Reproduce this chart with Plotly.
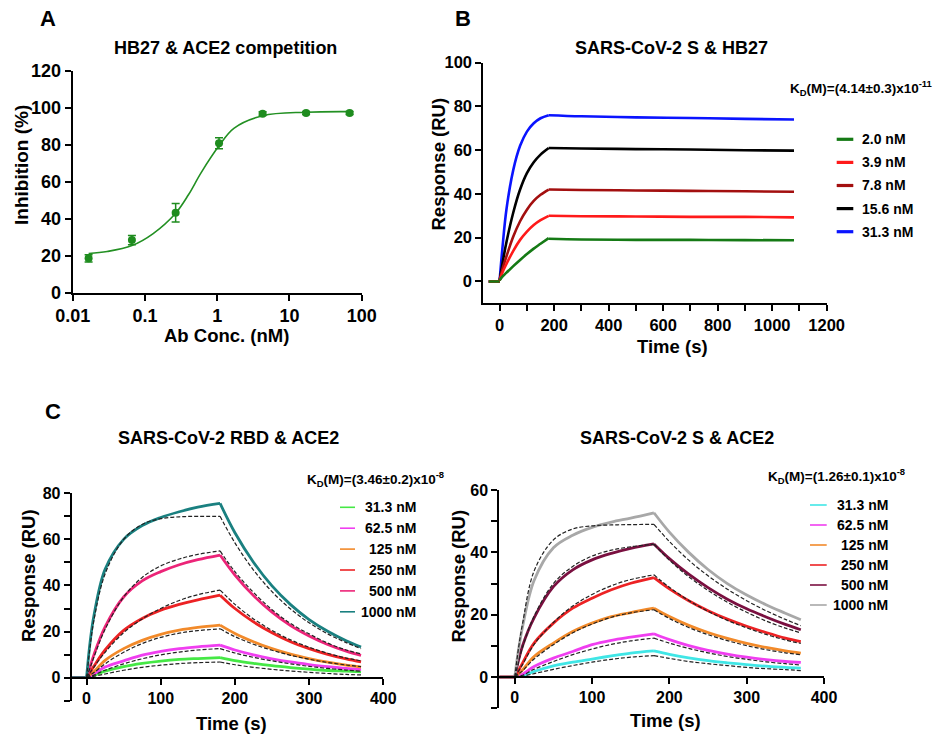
import plotly.graph_objects as go

W, H = 952, 738
FONT = "Liberation Sans, Arial, Helvetica, sans-serif"

# ---------------- Panel A data ----------------
A_CONC = [0.0166, 0.066, 0.266, 1.06, 4.25, 17.0, 68.0]
A_INHIB = [18.6, 28.5, 43.3, 80.9, 96.9, 97.3, 97.3]
A_ERR = [2.0, 2.5, 5.0, 3.0, 1.0, 0.8, 0.8]
A_FIT_X = [0.0166, 0.03, 0.066, 0.13, 0.266, 0.4, 0.6, 1.06, 1.7, 4.25, 17.0, 68.0]
A_FIT_Y = [21.2, 22.3, 25.5, 32.0, 43.0, 53.0, 65.0, 79.5, 89.0, 95.8, 97.7, 98.0]
A_XTICKS = [0.01, 0.1, 1, 10, 100]
A_XTICKTEXT = ["0.01", "0.1", "1", "10", "100"]

# ---------------- Panel B data ----------------
B_T_BASE = [-40, 0]
B_T_ASSOC = [0, 10, 25, 50, 75, 100, 125, 150, 180]
B_T_DISS = [180, 300, 500, 700, 900, 1080]
B_LABELS = ["2.0 nM", "3.9 nM", "7.8 nM", "15.6 nM", "31.3 nM"]
B_ASSOC_2_0 = [0.5, 2.2, 4.0, 7.0, 9.8, 12.5, 15.0, 17.2, 19.8]
B_ASSOC_3_9 = [0.5, 4.0, 8.0, 14.0, 19.0, 22.8, 25.8, 28.0, 30.0]
B_ASSOC_7_8 = [0.5, 5.5, 11.5, 20.5, 27.5, 32.8, 36.8, 39.6, 42.0]
B_ASSOC_15_6 = [0.5, 8.0, 18.0, 31.5, 42.0, 49.5, 54.5, 58.0, 61.0]
B_ASSOC_31_3 = [0.5, 15.0, 33.0, 51.0, 62.0, 68.5, 72.3, 74.6, 76.0]
B_DISS_2_0 = [19.5, 19.2, 19.0, 19.0, 18.9, 18.8]
B_DISS_3_9 = [30.0, 29.8, 29.7, 29.5, 29.5, 29.3]
B_DISS_7_8 = [42.0, 41.8, 41.6, 41.4, 41.2, 41.0]
B_DISS_15_6 = [61.0, 60.8, 60.5, 60.3, 60.0, 59.8]
B_DISS_31_3 = [76.0, 75.5, 75.0, 74.7, 74.3, 74.0]
B_COLORS = ["#157a15", "#ff1a1a", "#a30f0f", "#000000", "#0a14ff"]

# ---------------- Panel C data ----------------
C_T_BASE = [-20, 0]
C_T_ASSOC = [0, 5, 10, 25, 50, 75, 100, 125, 150, 180]
C_T_DISS = [180, 200, 225, 250, 275, 300, 325, 350, 370]
C_LABELS = ["31.3 nM", "62.5 nM", "125 nM", "250 nM", "500 nM", "1000 nM"]

# C left: SARS-CoV-2 RBD & ACE2
CL_ASSOC_31 = [0, 0.5, 1.0, 2.8, 4.8, 6.2, 7.2, 7.9, 8.3, 8.7]
CL_ASSOC_62 = [0, 0.7, 1.5, 4.6, 7.3, 9.8, 11.4, 12.6, 13.4, 14.1]
CL_ASSOC_125 = [0, 1.3, 2.6, 7.5, 12.6, 16.2, 18.8, 20.6, 21.8, 22.8]
CL_ASSOC_250 = [0, 2.5, 5.0, 12.0, 20.5, 25.7, 29.3, 31.8, 33.8, 35.8]
CL_ASSOC_500 = [0, 5.0, 10.0, 22.0, 35.0, 42.0, 46.0, 49.0, 51.2, 53.2]
CL_ASSOC_1000 = [0, 16.0, 27.0, 47.0, 60.0, 66.0, 69.5, 72.0, 74.0, 75.6]
CL_DISS_31 = [8.7, 7.4, 6.2, 5.2, 4.4, 3.7, 3.1, 2.8, 2.5]
CL_DISS_62 = [14.1, 12.0, 9.9, 8.2, 6.8, 5.7, 4.8, 4.0, 3.5]
CL_DISS_125 = [22.8, 19.2, 15.6, 12.6, 10.2, 8.3, 6.7, 5.4, 4.6]
CL_DISS_250 = [35.8, 30.0, 24.2, 19.5, 15.6, 12.6, 10.1, 8.1, 6.8]
CL_DISS_500 = [53.2, 44.5, 35.6, 28.4, 22.6, 18.1, 14.4, 11.5, 9.7]
CL_DISS_1000 = [75.6, 62.9, 50.1, 39.8, 31.7, 25.2, 20.1, 16.0, 13.3]
CL_FIT_ASSOC_31 = [0, 0.3, 0.6, 1.6, 3.2, 4.5, 5.4, 6.1, 6.5, 6.8]
CL_FIT_ASSOC_62 = [0, 0.5, 1.1, 3.2, 6.0, 8.2, 9.9, 11.1, 12.0, 12.6]
CL_FIT_ASSOC_125 = [0, 1.1, 2.2, 6.0, 11.0, 14.8, 17.5, 19.3, 20.4, 21.2]
CL_FIT_ASSOC_250 = [0, 2.3, 4.6, 11.0, 19.5, 25.5, 30.0, 33.5, 36.0, 38.0]
CL_FIT_ASSOC_500 = [0, 4.5, 9.0, 21.0, 35.0, 43.5, 48.5, 51.5, 53.5, 55.0]
CL_FIT_ASSOC_1000 = [0, 14.0, 25.0, 45.0, 60.0, 66.5, 69.0, 69.8, 70.0, 70.0]
CL_FIT_DISS_31 = [6.8, 5.6, 4.5, 3.6, 2.9, 2.3, 1.8, 1.4, 1.2]
CL_FIT_DISS_62 = [12.6, 10.7, 8.8, 7.3, 6.0, 4.9, 4.0, 3.3, 2.8]
CL_FIT_DISS_125 = [21.2, 17.8, 14.5, 11.9, 9.7, 8.0, 6.6, 5.5, 4.8]
CL_FIT_DISS_250 = [38.0, 31.8, 25.5, 20.5, 16.4, 13.2, 10.6, 8.5, 7.3]
CL_FIT_DISS_500 = [55.0, 46.0, 37.0, 29.5, 23.5, 19.0, 15.0, 12.0, 10.3]
CL_FIT_DISS_1000 = [70.0, 58.5, 46.7, 37.3, 29.8, 23.8, 19.0, 15.2, 12.6]
CL_COLORS = ["#45e845", "#f03ef0", "#f28a2a", "#ec2224", "#ec2478", "#1a8080"]

# C right: SARS-CoV-2 S & ACE2
CR_ASSOC_31 = [0, 0.2, 0.4, 1.8, 3.6, 4.8, 5.8, 6.8, 7.7, 8.4]
CR_ASSOC_62 = [0, 0.4, 0.9, 3.4, 6.1, 8.2, 10.4, 11.8, 12.8, 13.9]
CR_ASSOC_125 = [0, 1.1, 2.3, 6.6, 10.9, 14.6, 17.3, 19.4, 20.7, 22.1]
CR_ASSOC_250 = [0, 2.2, 4.5, 10.9, 17.3, 22.1, 25.3, 28.0, 30.1, 31.9]
CR_ASSOC_500 = [0, 5.5, 10.0, 19.0, 29.0, 34.4, 37.6, 39.7, 41.3, 42.7]
CR_ASSOC_1000 = [0, 9.0, 16.0, 31.0, 41.5, 45.5, 48.0, 49.7, 51.0, 52.7]
CR_DISS_31 = [8.4, 7.3, 6.2, 5.3, 4.6, 4.0, 3.5, 3.1, 2.9]
CR_DISS_62 = [13.9, 12.0, 10.1, 8.6, 7.4, 6.4, 5.6, 5.0, 4.7]
CR_DISS_125 = [22.1, 19.4, 16.6, 14.3, 12.4, 10.8, 9.5, 8.4, 7.7]
CR_DISS_250 = [31.9, 28.3, 24.5, 21.3, 18.6, 16.3, 14.3, 12.5, 11.4]
CR_DISS_500 = [42.7, 38.0, 33.0, 28.7, 25.0, 21.9, 19.3, 16.9, 15.2]
CR_DISS_1000 = [52.7, 46.5, 40.0, 34.5, 30.0, 26.3, 23.2, 20.5, 18.4]
CR_FIT_ASSOC_31 = [0, 0.1, 0.3, 1.1, 2.5, 3.7, 4.8, 5.7, 6.4, 6.9]
CR_FIT_ASSOC_62 = [0, 0.3, 0.6, 2.5, 5.0, 7.2, 9.0, 10.5, 11.6, 12.5]
CR_FIT_ASSOC_125 = [0, 1.0, 2.0, 5.8, 10.4, 14.2, 17.0, 19.2, 20.6, 21.6]
CR_FIT_ASSOC_250 = [0, 2.0, 4.0, 10.5, 17.5, 22.8, 26.5, 29.3, 31.3, 32.8]
CR_FIT_ASSOC_500 = [0, 5.0, 9.5, 19.5, 30.0, 35.5, 38.8, 40.7, 41.8, 42.6]
CR_FIT_ASSOC_1000 = [0, 9.5, 17.0, 34.0, 44.0, 47.5, 48.5, 48.8, 48.9, 49.0]
CR_FIT_DISS_31 = [6.9, 6.0, 5.0, 4.3, 3.7, 3.1, 2.7, 2.4, 2.1]
CR_FIT_DISS_62 = [12.5, 10.9, 9.2, 7.8, 6.6, 5.7, 4.9, 4.3, 3.9]
CR_FIT_DISS_125 = [21.6, 18.8, 15.9, 13.6, 11.7, 10.1, 8.8, 7.8, 7.2]
CR_FIT_DISS_250 = [32.8, 28.8, 24.6, 21.1, 18.2, 15.8, 13.7, 11.9, 10.8]
CR_FIT_DISS_500 = [42.6, 37.5, 32.2, 27.8, 24.0, 20.8, 18.0, 15.7, 14.2]
CR_FIT_DISS_1000 = [49.0, 43.5, 37.5, 32.5, 28.2, 24.5, 21.3, 18.5, 16.5]
CR_COLORS = ["#40e6e6", "#f03ef0", "#f28a2a", "#ec2224", "#7a1040", "#a8a8a8"]

KD_B = "K<sub>D</sub>(M)=(4.14±0.3)x10<sup>-11</sup>"
KD_CL = "K<sub>D</sub>(M)=(3.46±0.2)x10<sup>-8</sup>"
KD_CR = "K<sub>D</sub>(M)=(1.26±0.1)x10<sup>-8</sup>"

# ---------------- helpers ----------------
def px(x):
    return x / W

def py(y):
    return 1 - y / H

def seg(base_t, base_v, at, av, dt, dv):
    x = list(base_t) + [None] + list(at) + [None] + list(dt)
    y = list(base_v) + [None] + list(av) + [None] + list(dv)
    return x, y

fig = go.Figure()

# Panel A
fig.add_trace(go.Scatter(x=A_FIT_X, y=A_FIT_Y, mode="lines", line=dict(color="#239023", width=1.6, shape="spline"),
                         xaxis="x", yaxis="y", showlegend=False, hoverinfo="skip"))
fig.add_trace(go.Scatter(x=A_CONC, y=A_INHIB, mode="markers",
                         marker=dict(color="#1e8c1e", size=8),
                         error_y=dict(type="data", array=A_ERR, visible=True, color="#1e8c1e", thickness=1.5, width=4),
                         xaxis="x", yaxis="y", showlegend=False))

# Panel B
b_assoc = [B_ASSOC_2_0, B_ASSOC_3_9, B_ASSOC_7_8, B_ASSOC_15_6, B_ASSOC_31_3]
b_diss = [B_DISS_2_0, B_DISS_3_9, B_DISS_7_8, B_DISS_15_6, B_DISS_31_3]
for i in reversed(range(5)):
    x, y = seg(B_T_BASE, [0, 0], B_T_ASSOC, b_assoc[i], B_T_DISS, b_diss[i])
    fig.add_trace(go.Scatter(x=x, y=y, mode="lines", line=dict(color=B_COLORS[i], width=2.6, shape="spline"),
                             xaxis="x2", yaxis="y2", showlegend=False, name=B_LABELS[i]))

# Panel C
cl_assoc = [CL_ASSOC_31, CL_ASSOC_62, CL_ASSOC_125, CL_ASSOC_250, CL_ASSOC_500, CL_ASSOC_1000]
cl_diss = [CL_DISS_31, CL_DISS_62, CL_DISS_125, CL_DISS_250, CL_DISS_500, CL_DISS_1000]
cl_fa = [CL_FIT_ASSOC_31, CL_FIT_ASSOC_62, CL_FIT_ASSOC_125, CL_FIT_ASSOC_250, CL_FIT_ASSOC_500, CL_FIT_ASSOC_1000]
cl_fd = [CL_FIT_DISS_31, CL_FIT_DISS_62, CL_FIT_DISS_125, CL_FIT_DISS_250, CL_FIT_DISS_500, CL_FIT_DISS_1000]
cr_assoc = [CR_ASSOC_31, CR_ASSOC_62, CR_ASSOC_125, CR_ASSOC_250, CR_ASSOC_500, CR_ASSOC_1000]
cr_diss = [CR_DISS_31, CR_DISS_62, CR_DISS_125, CR_DISS_250, CR_DISS_500, CR_DISS_1000]
cr_fa = [CR_FIT_ASSOC_31, CR_FIT_ASSOC_62, CR_FIT_ASSOC_125, CR_FIT_ASSOC_250, CR_FIT_ASSOC_500, CR_FIT_ASSOC_1000]
cr_fd = [CR_FIT_DISS_31, CR_FIT_DISS_62, CR_FIT_DISS_125, CR_FIT_DISS_250, CR_FIT_DISS_500, CR_FIT_DISS_1000]

for (xa, ya, assoc, diss, fa, fd, colors) in [("x3", "y3", cl_assoc, cl_diss, cl_fa, cl_fd, CL_COLORS),
                                               ("x4", "y4", cr_assoc, cr_diss, cr_fa, cr_fd, CR_COLORS)]:
    for i in range(6):
        x, y = seg(C_T_BASE, [0, 0], C_T_ASSOC, assoc[i], C_T_DISS, diss[i])
        fig.add_trace(go.Scatter(x=x, y=y, mode="lines", line=dict(color=colors[i], width=2.8, shape="spline"),
                                 xaxis=xa, yaxis=ya, showlegend=False, name=C_LABELS[i]))
    for i in range(6):
        x = list(C_T_ASSOC) + [None] + list(C_T_DISS)
        y = list(fa[i]) + [None] + list(fd[i])
        fig.add_trace(go.Scatter(x=x, y=y, mode="lines", line=dict(color="#222222", width=1.2, dash="4px,2px", shape="spline"),
                                 xaxis=xa, yaxis=ya, showlegend=False, hoverinfo="skip"))

# ---------------- axes ----------------
def axis_common(size):
    return dict(showline=True, linewidth=2, linecolor="black", ticks="outside", ticklen=6, tickwidth=2,
                tickcolor="black", showgrid=False, zeroline=False, automargin=False,
                tickfont=dict(family=FONT, size=size, color="black", weight="bold"))

def ydom(top, bottom):
    return [py(bottom), py(top)]

# A
A_Y = ydom(71, 292.7)
fig.update_layout(
    xaxis=dict(domain=[px(72.7), px(361.7)], type="log", range=[-2, 2], tickvals=A_XTICKS, ticktext=A_XTICKTEXT,
               anchor="y", **axis_common(18)),
    yaxis=dict(domain=A_Y, range=[0, 120], dtick=20, anchor="x", **axis_common(18)),
)
# B
B_Y = ydom(62.7, 303.3)
fig.update_layout(
    xaxis2=dict(domain=[px(483.3), px(826.7)], range=[-60, 1200], tick0=0, dtick=200, anchor="y2",
                minor=dict(dtick=100, tick0=0, ticks="outside", ticklen=6, tickwidth=2, tickcolor="black"),
                **axis_common(16.5)),
    yaxis2=dict(domain=B_Y, range=[-10, 100], tick0=0, dtick=20, anchor="x2", **axis_common(16.5)),
)
# C
def x_at_zero(dom, rng):
    return dom[0] + (0 - rng[0]) / (rng[1] - rng[0]) * (dom[1] - dom[0])

CL_Y = ydom(493.3, 700.7)
CL_YR = [-10, 80]
CR_Y = ydom(490, 708.3)
CR_YR = [-10, 60]
minor_y = dict(dtick=10, tick0=0, ticks="outside", ticklen=6, tickwidth=2, tickcolor="black")
fig.update_layout(
    xaxis3=dict(domain=[px(71.7), px(383.3)], range=[-20, 400], tick0=0, dtick=100, anchor="free",
                position=x_at_zero(CL_Y, CL_YR), **axis_common(16)),
    yaxis3=dict(domain=CL_Y, range=CL_YR, tick0=0, dtick=20, anchor="x3", minor=minor_y, **axis_common(16)),
    xaxis4=dict(domain=[px(499.3), px(824)], range=[-20, 400], tick0=0, dtick=100, anchor="free",
                position=x_at_zero(CR_Y, CR_YR), **axis_common(16)),
    yaxis4=dict(domain=CR_Y, range=CR_YR, tick0=0, dtick=20, anchor="x4", minor=minor_y, **axis_common(16)),
)

# ---------------- text ----------------
ann = []
def text(x, y, s, size, xanchor="center", angle=0):
    ann.append(dict(x=px(x), y=py(y), xref="paper", yref="paper", text=s, showarrow=False,
                    xanchor=xanchor, yanchor="middle", textangle=angle,
                    font=dict(family=FONT, size=size, color="black", weight="bold")))

text(48, 18, "A", 22)
text(463, 18, "B", 22)
text(53, 411, "C", 22)
text(225, 48, "HB27 &amp; ACE2 competition", 18)
text(671, 48, "SARS-CoV-2 S &amp; HB27", 18)
text(228, 438, "SARS-CoV-2 RBD &amp; ACE2", 18)
text(677, 438, "SARS-CoV-2 S &amp; ACE2", 18)
text(21, 165, "Inhibition (%)", 19, angle=-90)
text(226, 335, "Ab Conc. (nM)", 18.5)
text(437.5, 164, "Response (RU)", 18.5, angle=-90)
text(672, 347, "Time (s)", 18.5)
text(28, 576, "Response (RU)", 18.5, angle=-90)
text(231.7, 723, "Time (s)", 18.5)
text(457.5, 576, "Response (RU)", 18.5, angle=-90)
text(665, 720, "Time (s)", 18.5)
text(788, 88, KD_B, 13.5, xanchor="left")
text(305, 479, KD_CL, 13.5, xanchor="left")
text(766, 476, KD_CR, 13.5, xanchor="left")

shapes = []
def legend(labels, colors, x0, x1, tx, y0, dy, width, align):
    for i, (lab, col) in enumerate(zip(labels, colors)):
        yy = y0 + i * dy
        shapes.append(dict(type="line", xref="paper", yref="paper", x0=px(x0), x1=px(x1), y0=py(yy), y1=py(yy),
                           line=dict(color=col, width=width)))
        text(tx, yy, lab, 14, xanchor=align)

legend(B_LABELS, B_COLORS, 836.7, 853.3, 860, 139.3, 23.1, 3.2, "left")
legend(C_LABELS, CL_COLORS, 340, 355, 418, 507.3, 20.9, 1.6, "right")
legend(C_LABELS, CR_COLORS, 810, 826.7, 890, 505, 20.0, 1.6, "right")

fig.update_layout(width=W, height=H, autosize=False, margin=dict(l=0, r=0, t=0, b=0, pad=0, autoexpand=False),
                  paper_bgcolor="white", plot_bgcolor="white", showlegend=False,
                  annotations=ann, shapes=shapes, font=dict(family=FONT))

fig.write_html("out.html", config={"displayModeBar": False, "staticPlot": True},
               post_script="document.body.style.margin='0';document.body.style.overflow='hidden';")
